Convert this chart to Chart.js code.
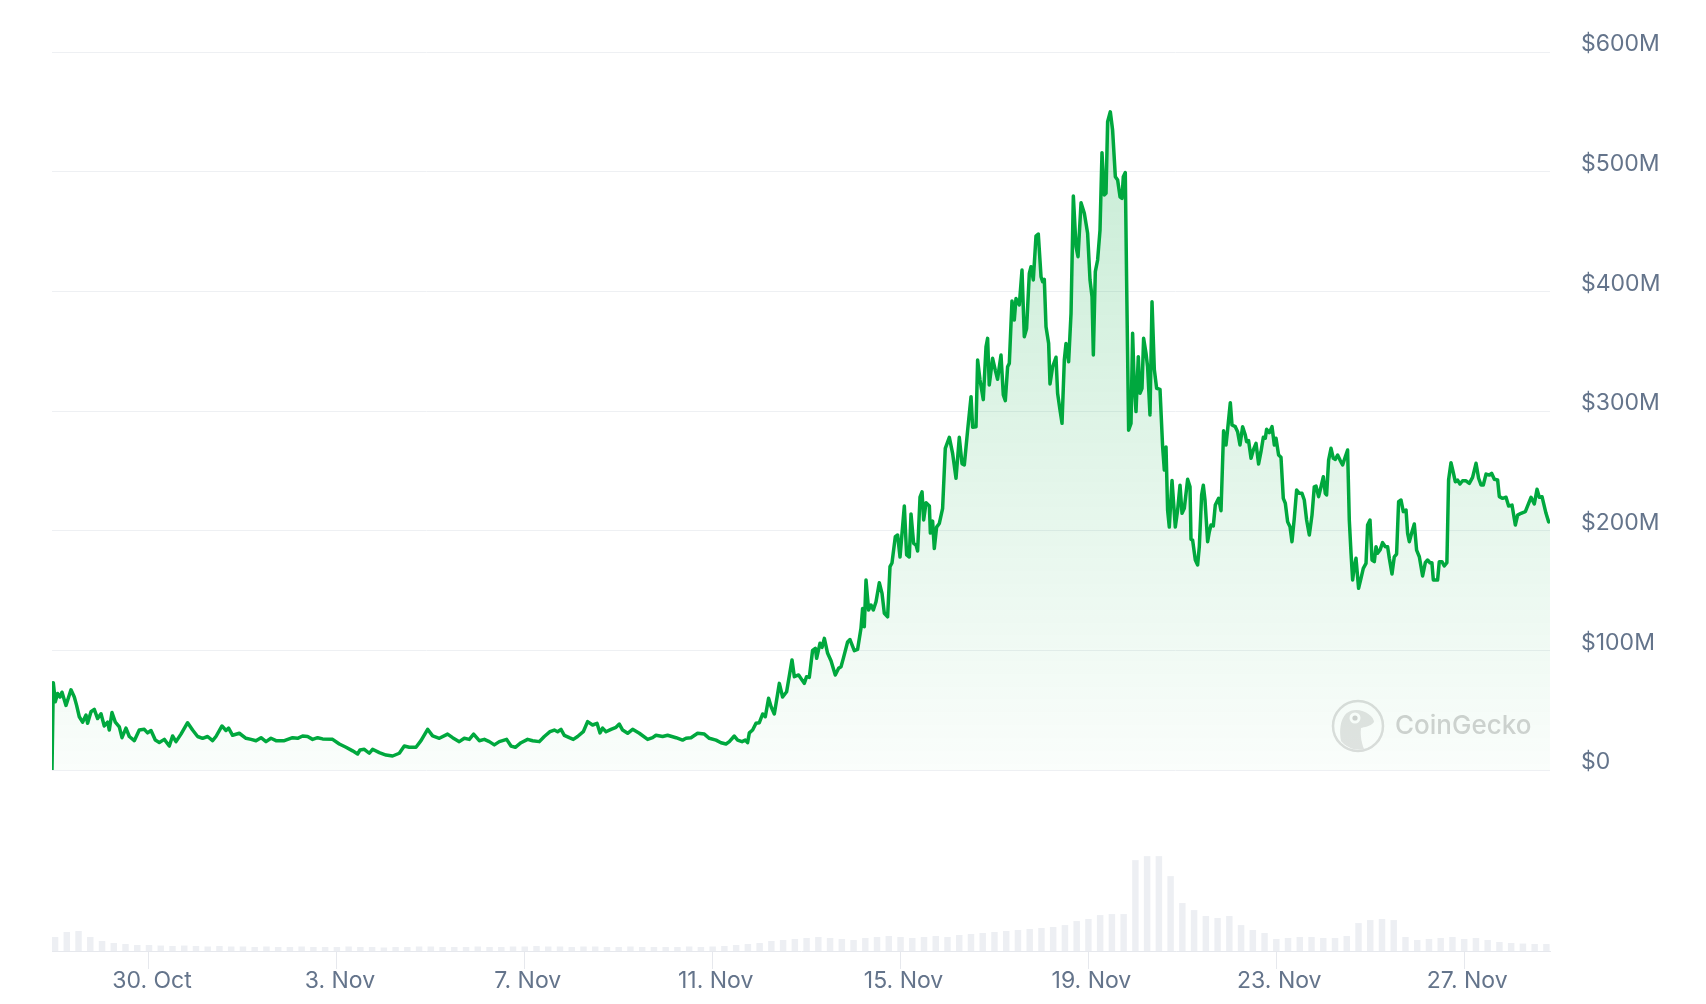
<!DOCTYPE html>
<html><head><meta charset="utf-8">
<script src="https://cdn.jsdelivr.net/npm/chart.js@4.4.1/dist/chart.umd.min.js"></script>
<style>html,body{margin:0;padding:0;background:#fff;}canvas{display:block}</style>
</head><body>
<canvas id="c" width="1706" height="1004"></canvas>
<script>
// Time in days relative to 30 Oct 00:00, values in $M
const priceDays = [-2.065,-2.037,-1.995,-1.946,-1.895,-1.852,-1.767,-1.661,-1.590,-1.541,-1.484,-1.414,-1.341,-1.307,-1.235,-1.165,-1.094,-1.022,-0.952,-0.881,-0.845,-0.788,-0.717,-0.632,-0.575,-0.490,-0.419,-0.313,-0.207,-0.100,-0.030,0.043,0.134,0.219,0.326,0.432,0.502,0.575,0.681,0.822,0.928,1.035,1.141,1.248,1.354,1.426,1.554,1.639,1.695,1.780,1.923,2.065,2.172,2.278,2.385,2.491,2.597,2.704,2.881,3.057,3.164,3.270,3.377,3.483,3.590,3.696,3.909,4.052,4.194,4.335,4.441,4.492,4.584,4.690,4.760,4.903,5.046,5.186,5.329,5.435,5.542,5.684,5.791,5.932,6.038,6.181,6.357,6.464,6.606,6.713,6.819,6.911,7.032,7.139,7.245,7.352,7.458,7.614,7.707,7.799,7.920,8.061,8.167,8.310,8.416,8.537,8.629,8.699,8.771,8.842,8.948,9.033,9.125,9.246,9.338,9.444,9.538,9.602,9.657,9.730,9.836,9.943,10.013,10.083,10.190,10.296,10.439,10.616,10.722,10.794,10.935,11.041,11.220,11.360,11.433,11.539,11.680,11.823,11.929,12.072,12.178,12.284,12.355,12.461,12.532,12.625,12.695,12.744,12.781,12.851,12.923,12.994,13.064,13.121,13.191,13.243,13.313,13.420,13.489,13.575,13.690,13.739,13.830,13.951,14.000,14.058,14.128,14.186,14.214,14.286,14.329,14.378,14.448,14.520,14.611,14.682,14.733,14.782,14.873,14.924,15.016,15.086,15.158,15.193,15.229,15.265,15.320,15.372,15.421,15.478,15.548,15.606,15.655,15.725,15.776,15.818,15.889,15.938,15.989,16.081,16.130,16.187,16.223,16.279,16.330,16.364,16.415,16.458,16.492,16.543,16.614,16.635,16.683,16.719,16.768,16.826,16.896,16.953,17.039,17.109,17.181,17.251,17.309,17.358,17.428,17.501,17.535,17.607,17.641,17.692,17.762,17.820,17.854,17.889,17.960,18.018,18.066,18.139,18.188,18.231,18.280,18.316,18.373,18.422,18.458,18.529,18.586,18.635,18.684,18.742,18.778,18.827,18.884,18.933,18.991,19.025,19.061,19.097,19.153,19.182,19.238,19.310,19.344,19.395,19.438,19.487,19.523,19.579,19.630,19.679,19.736,19.779,19.843,19.913,19.983,20.034,20.077,20.105,20.147,20.196,20.247,20.289,20.338,20.375,20.409,20.466,20.515,20.573,20.622,20.673,20.715,20.743,20.785,20.813,20.856,20.907,20.941,20.977,21.013,21.062,21.098,21.141,21.175,21.226,21.260,21.311,21.354,21.403,21.452,21.524,21.580,21.616,21.652,21.686,21.722,21.780,21.850,21.899,21.950,21.993,22.042,22.112,22.163,22.184,22.218,22.276,22.325,22.361,22.410,22.446,22.482,22.538,22.574,22.610,22.659,22.701,22.772,22.823,22.878,22.929,22.963,23.021,23.057,23.127,23.176,23.227,23.283,23.340,23.368,23.410,23.462,23.511,23.568,23.623,23.674,23.724,23.766,23.794,23.851,23.909,23.958,23.994,24.049,24.100,24.149,24.192,24.241,24.292,24.334,24.383,24.433,24.490,24.547,24.596,24.645,24.703,24.760,24.809,24.845,24.901,24.952,25.001,25.043,25.071,25.114,25.165,25.214,25.256,25.305,25.357,25.412,25.469,25.518,25.554,25.591,25.625,25.661,25.697,25.752,25.803,25.852,25.910,25.944,25.995,26.038,26.087,26.123,26.157,26.208,26.263,26.321,26.370,26.406,26.463,26.512,26.561,26.604,26.655,26.704,26.762,26.796,26.832,26.889,26.938,26.987,27.045,27.115,27.172,27.221,27.272,27.313,27.343,27.434,27.470,27.527,27.576,27.632,27.668,27.719,27.769,27.811,27.860,27.911,27.966,28.039,28.109,28.179,28.252,28.307,28.358,28.407,28.465,28.535,28.584,28.642,28.712,28.748,28.818,28.891,28.946,29.018,29.089,29.138,29.210,29.302,29.372,29.423,29.493,29.551,29.599,29.657,29.742,29.797,29.827];
const priceValues = [0,73,57,64,61,65,54,67,61,54,44.5,40,46,39,48.7,50.7,43,47,36.8,40,33.4,48,40,36,27,35,28,24.5,33.4,34,31,33,25,23,25.6,20,28.4,23.7,30,39.5,33.4,28,26.5,28,24.5,28,36.8,33,35,29,30.7,26.5,25.6,24.5,27,23.7,26.5,24.5,24.5,27,26.5,28.4,28,25.6,27,26,25.6,21.7,19,16,13.4,16.7,17.3,14,17.3,14.5,12.5,11.7,14,20,19,19,24.5,34,28.5,26.5,30,27,23.7,26.5,25.6,30,24.5,25.6,23.7,21,23.7,25.6,20,19,22.8,25.6,24.5,23.7,28,32,33.4,32,34,29,27,25.6,28,32,40.4,37.6,39,31,35,32,34,35.7,38.4,33.4,30.7,34,30.7,25.6,27,29,28,29,27,25,26.5,27,30.7,30,26.5,25,22.8,21.7,23.7,28.4,25,23.7,25,22.8,31,33.4,39,39.5,46.8,44.5,60,53,46.8,72.4,61,65.4,92,78,79.4,72.4,78,77.4,100,101.7,93.3,106,102.5,110,97.5,91.3,79.4,85,86.3,93.3,107,109,99.7,100.8,118.4,135,119.8,158.8,133.7,137.9,133.7,140.6,156.5,147.6,131,128,170,173,195,196.4,178,220.6,179.7,178,214,189.4,188,183,228,232.5,209,223.4,220.6,198,208,185,203,206,218.7,268.8,278,264.6,243.8,278,256,254.9,283.6,312,286.4,286.9,342.6,325.9,309.5,353.7,360.7,321.7,344,334,326.5,346.8,313.4,308.6,337,339.8,392,376,394,388.6,417.8,362,369,415,420.6,409.5,446.2,447.9,412.2,408,410,370.4,356.5,322.6,337,344.9,314.8,300.8,289.7,342.6,356.5,341.2,381.6,479.7,437.3,428.9,474,465.2,448.5,409.5,395.5,346.8,416.4,426.2,451.2,515.9,480.5,481.9,541.8,550,534.8,495.8,493,479,477.7,495.8,499.2,409.5,284,289.7,364.9,320.3,299.5,345.4,314.8,319,360.7,348.2,337,296.7,391.3,334.8,319,318.1,270,250.7,270,217,203,242,203,217,238,214.5,218.7,242.9,236.7,192.8,192.2,175.5,171.3,186.6,229.8,238,225.6,190.8,199.1,204.7,203.9,221.4,227,216.7,283.5,271.6,284.1,306.9,288.3,286.9,282.7,271.6,286.9,279.9,274.3,275.2,260.5,267.4,273,255.7,266,278,277.2,284.7,281.9,286.9,271.6,277.2,263.2,261.3,227,222.9,207.5,203.3,190.8,210.3,234,231.2,231.2,225.6,208.9,196.4,213,236.7,237.3,228.4,236.7,245,231.2,229.8,259,268.8,260.5,259.6,263.2,259,254.9,261.8,267.4,208.9,181.1,158.8,170,176.9,151.8,160.2,168.5,172.7,204.7,208.9,175.5,174.1,186.6,181.1,183.8,190,186.6,186.6,176.9,163.8,178.2,180.5,224.2,225.6,215.9,217.3,197.8,190.8,199.1,205.6,183.8,178.2,162.1,173.2,175.5,173.2,173.2,158.8,158.8,174.1,174.1,170.5,173.2,242.3,256.8,248.4,240.9,242.3,239,241.7,241.7,239.5,244.5,256.3,243.8,238.2,238.2,247.3,246.5,247.9,242.9,242.3,228.4,227,227.9,220.6,221.4,204.7,213,214.5,215.9,222.9,227.9,222.3,234.6,227.9,228.4,214.5,207.5,206.7];

// Volume bars: one bar every 6 hours starting at day -2.0 (relative units)
const volumeStartDay = -2.0;
const volumeStepDays = 0.25;
const volumeValues = [28,38,40,28,20,16,14,12,12,11,10,11,10,9,10,9,9,8,9,8,8,9,8,8,8,9,8,8,7,8,8,9,9,8,8,8,9,8,8,9,9,10,9,9,8,9,9,8,8,9,8,8,8,8,9,8,9,10,12,14,16,20,22,24,26,28,26,24,22,26,28,30,28,26,28,30,28,32,34,36,38,40,42,44,46,48,52,60,64,72,74,74,182,190,190,150,96,82,70,66,70,52,42,36,24,26,28,28,26,26,30,56,62,64,62,28,22,24,26,28,24,26,22,18,16,15,14,14];

const xTickDays = [0,4,8,12,16,20,24,28];
const xTickLabels = ['30. Oct','3. Nov','7. Nov','11. Nov','15. Nov','19. Nov','23. Nov','27. Nov'];
const yTickValues = [0,100,200,300,400,500,600];
const yTickLabels = ['$0','$100M','$200M','$300M','$400M','$500M','$600M'];

const FONT = 'Inter';
const LABEL_COLOR = '#64748b';

const watermark = {
  id: 'watermark',
  beforeDatasetsDraw(chart) {
    const ctx = chart.ctx;
    const area = chart.chartArea;
    const cx = area.right - 192;
    const cy = chart.scales.y.getPixelForValue(0) - 44;
    const r = 25;
    ctx.save();
    ctx.beginPath();
    ctx.arc(cx, cy, r, 0, Math.PI * 2);
    ctx.fillStyle = 'rgba(255,255,255,0.6)';
    ctx.fill();
    ctx.lineWidth = 2.5;
    ctx.strokeStyle = '#dedede';
    ctx.stroke();
    ctx.beginPath();
    ctx.moveTo(cx - 17, cy + 15);
    ctx.bezierCurveTo(cx - 20, cy - 4, cx - 14, cy - 16, cx - 2, cy - 16);
    ctx.bezierCurveTo(cx + 8, cy - 16, cx + 16, cy - 9, cx + 16, cy - 4);
    ctx.bezierCurveTo(cx + 12, cy + 1, cx + 6, cy + 1, cx + 3, cy + 2);
    ctx.bezierCurveTo(cx + 2, cy + 10, cx + 4, cy + 18, cx + 6, cy + 23);
    ctx.bezierCurveTo(cx - 4, cy + 25, cx - 12, cy + 21, cx - 17, cy + 15);
    ctx.closePath();
    ctx.fillStyle = '#e4e4e4';
    ctx.fill();
    ctx.beginPath();
    ctx.arc(cx - 3, cy - 8, 5.5, 0, Math.PI * 2);
    ctx.fillStyle = '#ffffff';
    ctx.fill();
    ctx.beginPath();
    ctx.arc(cx - 3, cy - 8, 2.6, 0, Math.PI * 2);
    ctx.fillStyle = '#d2d2d2';
    ctx.fill();
    ctx.font = '500 26px ' + FONT;
    ctx.fillStyle = '#d3d3d3';
    ctx.textBaseline = 'middle';
    ctx.textAlign = 'left';
    ctx.fillText('CoinGecko', cx + 37, cy);
    ctx.restore();
  }
};

const ctx = document.getElementById('c').getContext('2d');
new Chart(ctx, {
  type: 'line',
  data: {
    datasets: [
      {
        type: 'line',
        label: 'Price',
        data: priceDays.map((d, i) => ({ x: d, y: priceValues[i] })),
        yAxisID: 'y',
        borderColor: '#00a83e',
        borderWidth: 3.5,
        pointRadius: 0,
        tension: 0,
        borderJoinStyle: 'round',
        fill: 'origin',
        backgroundColor: (context) => {
          const chart = context.chart;
          const area = chart.chartArea;
          if (!area) return 'rgba(0,168,62,0.1)';
          const y0 = chart.scales.y.getPixelForValue(0);
          const g = chart.ctx.createLinearGradient(0, area.top, 0, y0);
          g.addColorStop(0, 'rgba(0,168,62,0.24)');
          g.addColorStop(1, 'rgba(0,168,62,0.02)');
          return g;
        },
        order: 1
      },
      {
        type: 'bar',
        label: 'Volume',
        data: volumeValues.map((v, i) => ({ x: volumeStartDay + i * volumeStepDays, y: v })),
        yAxisID: 'yv',
        backgroundColor: 'rgba(190,197,212,0.28)',
        barPercentage: 0.55,
        categoryPercentage: 1,
        order: 2
      }
    ]
  },
  options: {
    responsive: false,
    animation: false,
    devicePixelRatio: 1,
    layout: { padding: { left: 52, top: 52, right: 0, bottom: 0 } },
    plugins: { legend: { display: false }, tooltip: { enabled: false } },
    scales: {
      x: {
        type: 'linear',
        position: 'bottom',
        offset: false,
        min: priceDays[0],
        max: priceDays[priceDays.length - 1],
        afterBuildTicks: (s) => { s.ticks = xTickDays.map(v => ({ value: v })); },
        afterFit: (s) => { s.height = 53; },
        grid: { offset: false, drawOnChartArea: false, drawTicks: true, tickLength: 18, color: '#e6e8ed', lineWidth: 1 },
        border: { display: true, color: '#e6e8ed', width: 1 },
        ticks: {
          autoSkip: false, maxRotation: 0, padding: -2, labelOffset: 3,
          color: LABEL_COLOR, font: { family: FONT, size: 23 },
          callback: (v, i) => xTickLabels[i]
        }
      },
      y: {
        position: 'right',
        min: -151.25,
        max: 600,
        afterBuildTicks: (s) => { s.ticks = yTickValues.map(v => ({ value: v })); },
        afterFit: (s) => { s.width = 156; },
        grid: { drawTicks: false, color: '#eef0f3', lineWidth: 1 },
        border: { display: false },
        ticks: {
          padding: 31, labelOffset: -7.5,
          color: LABEL_COLOR, font: { family: FONT, size: 23 },
          callback: (v, i) => yTickLabels[i]
        }
      },
      yv: { display: false, min: 0, max: 1800 }
    }
  },
  plugins: [watermark]
});
</script>
</body></html>
